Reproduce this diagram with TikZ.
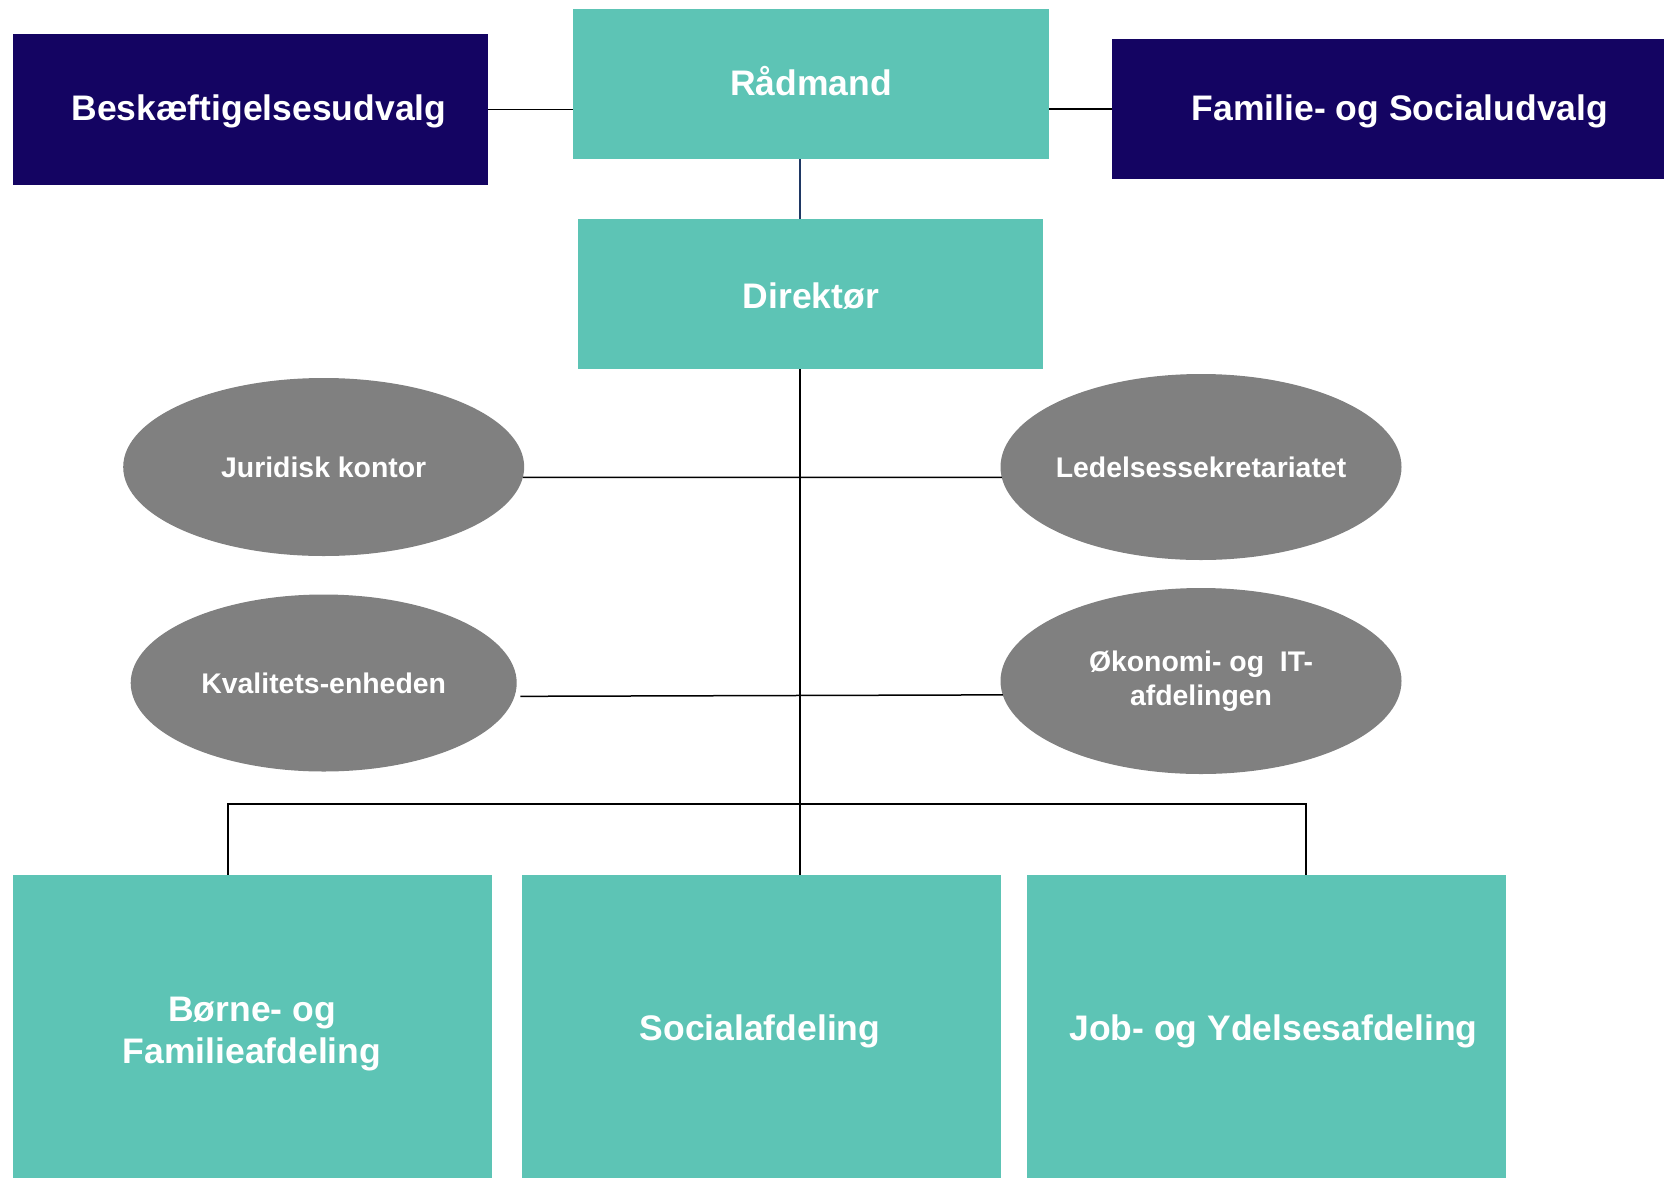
\documentclass[tikz,border=0pt]{standalone}
\usepackage{fontspec}
\setmainfont{Liberation Sans}
\usetikzlibrary{shapes.geometric}
\definecolor{teal}{RGB}{93,196,181}
\definecolor{navy}{RGB}{20,4,98}
\definecolor{ovalgray}{RGB}{128,128,128}
\definecolor{navyline}{RGB}{31,56,100}
\tikzset{
  base/.style={inner sep=0pt, outer sep=0pt, text=white, font=\bfseries\fontsize{35.5}{42.5}\selectfont, align=center},
  tealbox/.style={base, rectangle, fill=teal},
  navybox/.style={base, rectangle, fill=navy},
  oval/.style={base, ellipse, fill=ovalgray, font=\bfseries\fontsize{28.4}{34}\selectfont},
  ovaltxt/.style={base, font=\bfseries\fontsize{28.4}{34}\selectfont},
  txt/.style={base, inner sep=0pt},
  conn/.style={draw=black, line width=1.5pt},
}
\begin{document}
\begin{tikzpicture}[x=1pt,y=-1pt]
\useasboundingbox (0,0) rectangle (1664,1178);
% top row
\node[navybox, minimum width=475.3pt, minimum height=150.6pt] (besk) at (250.4,109.3) {};
\node[txt] (beskt) at (259,111) {Beskæftigelsesudvalg};
\node[tealbox, minimum width=475.5pt, minimum height=150.5pt] (rad) at (810.8,83.8) {};
\node[txt] (radt) at (811,81) {Rådmand};
\node[navybox, minimum width=552pt, minimum height=140pt] (fam) at (1388,109) {};
\node[txt] (famt) at (1400,111) {Familie- og Socialudvalg};
% direktor
\node[tealbox, minimum width=465pt, minimum height=150.4pt] (dir) at (810.5,293.8) {};
\node[txt] (dirt) at (811,296) {Direktør};
% ovals
\node[oval, minimum width=401pt, minimum height=178pt] (jur) at (323.7,467) {Juridisk kontor};
\node[oval, minimum width=401pt, minimum height=186pt] (led) at (1201,467) {};
\node[ovaltxt] (ledt) at (1201,467) {Ledelsessekretariatet};
\node[oval, minimum width=386pt, minimum height=177pt] (kva) at (323.7,683) {Kvalitets-enheden};
\node[oval, minimum width=401pt, minimum height=186pt] (oko) at (1201,681) {Økonomi- og\ \ IT-\\afdelingen};
% bottom boxes
\node[tealbox, minimum width=479.7pt, minimum height=303.5pt] (b1) at (252.5,1026.25) {};
\node[txt] (b1t) at (252,1034) {Børne- og\\Familieafdeling};
\node[tealbox, minimum width=478.7pt, minimum height=303.5pt] (b2) at (761.3,1026.25) {};
\node[txt] (b2t) at (760,1031) {Socialafdeling};
\node[tealbox, minimum width=479pt, minimum height=303.5pt] (b3) at (1266.5,1026.25) {};
\node[txt] (b3t) at (1273.5,1031) {Job- og Ydelsesafdeling};
% helper coordinates
\coordinate (sp) at (800,0);
\coordinate (bl) at (228,804);
\coordinate (br) at (1306,804);
% connectors
\draw[conn] (besk.east) -- (besk.east -| rad.west);
\draw[conn] (fam.west) -- (fam.west -| rad.east);
\draw[line width=1.5pt, draw=navyline] (rad.south -| sp) -- (dir.north -| sp);
\draw[conn] (dir.south -| sp) -- (b2.north -| sp);
\draw[conn] (jur.-3.3) -- (led.183.3);
\draw[conn, shorten <=6pt] (kva.-4.2) -- (oko.184.2);
\draw[conn] (b1.north -| bl) -- (bl) -- (br) -- (b3.north -| br);
\end{tikzpicture}
\end{document}
